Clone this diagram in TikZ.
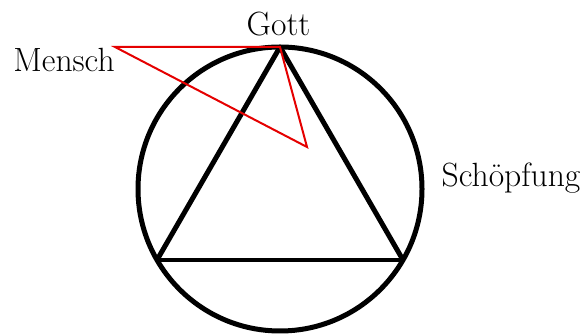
\documentclass[tikz,border=0pt]{standalone}
\usepackage{tikz}
\tikzset{
  label text/.style={font=\fontsize{16.8}{19}\selectfont, inner sep=0pt, anchor=base},
  thick line/.style={line width=2.5pt, black},
  thin red/.style={line width=1pt, red!90!black, line join=miter}
}

\begin{document}
\begin{tikzpicture}[x=0.5pt, y=-0.5pt]
\useasboundingbox (0,0) rectangle (583,335);

% Points
\coordinate (center) at (280,189);
\coordinate (top) at (280,47);
\coordinate (left) at (157,260);
\coordinate (right) at (403,260);
\coordinate (m) at (115,47);
\coordinate (inner) at (307,147);

% Labels
\node[label text] (gott) at (278.5,36) {Gott};
\node[label text] (mensch) at (64,72) {Mensch};
\node[label text] (schoepfung) at (511,187) {Schöpfung};

% Circle and triangle
\draw[thick line] (center) circle [radius=71pt];
\draw[thick line] (top) -- (left);
\draw[thick line] (top) -- (right);
\draw[line width=2pt] (left) -- (right);

% Red triangle
\draw[thin red] (m) -- (top) -- (inner) -- cycle;

\end{tikzpicture}
\end{document}
